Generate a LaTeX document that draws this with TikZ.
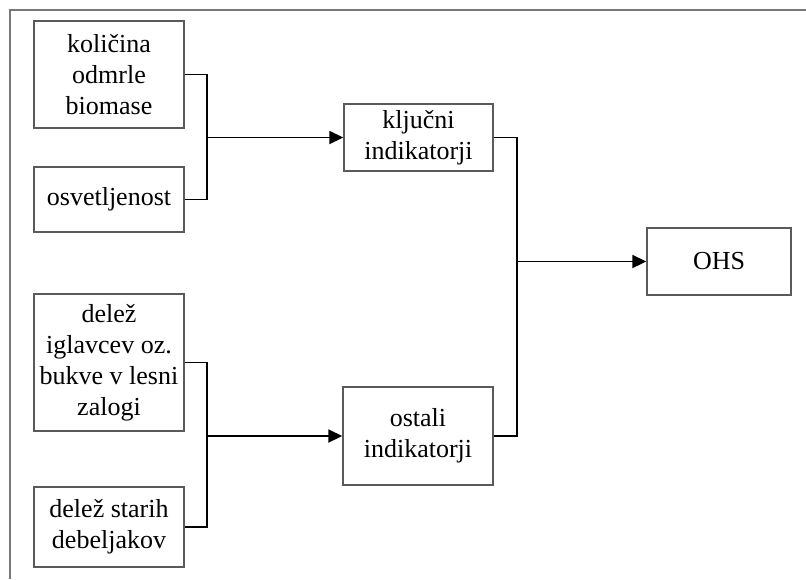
\documentclass[tikz,border=0pt]{standalone}
\usepackage{fontspec}
\setmainfont{Liberation Serif}
\usepackage{tikz}
\usetikzlibrary{calc, arrows.meta, positioning}
\definecolor{mygray1}{RGB}{90, 90, 90}
\definecolor{mygray2}{RGB}{120, 120, 120}
\tikzset{>=latex}

\begin{document}
\begin{tikzpicture}[x=0.5pt, y=-0.5pt,
  box/.style = {draw=mygray1, line width=0.7pt, align=center, inner sep=0pt,
                font=\fontsize{13}{15.5}\selectfont},
  wire/.style = {line width=0.9pt},
  arr/.style = {wire, -{Triangle[length=7pt, width=6.5pt]}}]
\useasboundingbox (0,0) rectangle (806,579);
% frame
\draw[mygray2, line width=0.6pt] (10,579) -- (10,10) -- (806,10);
% inputs
\node[box, minimum width=75pt, minimum height=53.5pt] (bio) at (109,74.5) {količina\\odmrle\\biomase};
\node[box, minimum width=75pt, minimum height=32.5pt] (osv) at (109,199.5) {osvetljenost};
\node[box, minimum width=75pt, minimum height=68.5pt] (igl) at (109,362.5) {delež\\iglavcev oz.\\bukve v lesni\\zalogi};
\node[box, minimum width=75pt, minimum height=40pt] (sta) at (109,527) {delež starih\\debeljakov};
% indicators
\node[box, minimum width=74.5pt, minimum height=33.5pt] (klj) at (418.5,137.5) {ključni\\indikatorji};
\node[box, minimum width=75pt, minimum height=49pt] (ost) at (418,436) {ostali\\indikatorji};
\node[box, minimum width=72pt, minimum height=33.5pt] (ohs) at (719,261.5) {OHS};
% junctions
\coordinate (j1) at (207,137.5);
\coordinate (j2) at (207,436);
\coordinate (j3) at (517,261.5);
\draw[wire] (bio.east) -| (j1) |- (osv.east);
\draw[arr] (j1) -- (klj.west);
\draw[wire] (igl.east) -| (j2) |- (sta.east);
\draw[arr] (j2) -- (ost.west);
\draw[wire] (klj.east) -| (j3) |- (ost.east);
\draw[arr] (j3) -- (ohs.west);
\end{tikzpicture}
\end{document}
